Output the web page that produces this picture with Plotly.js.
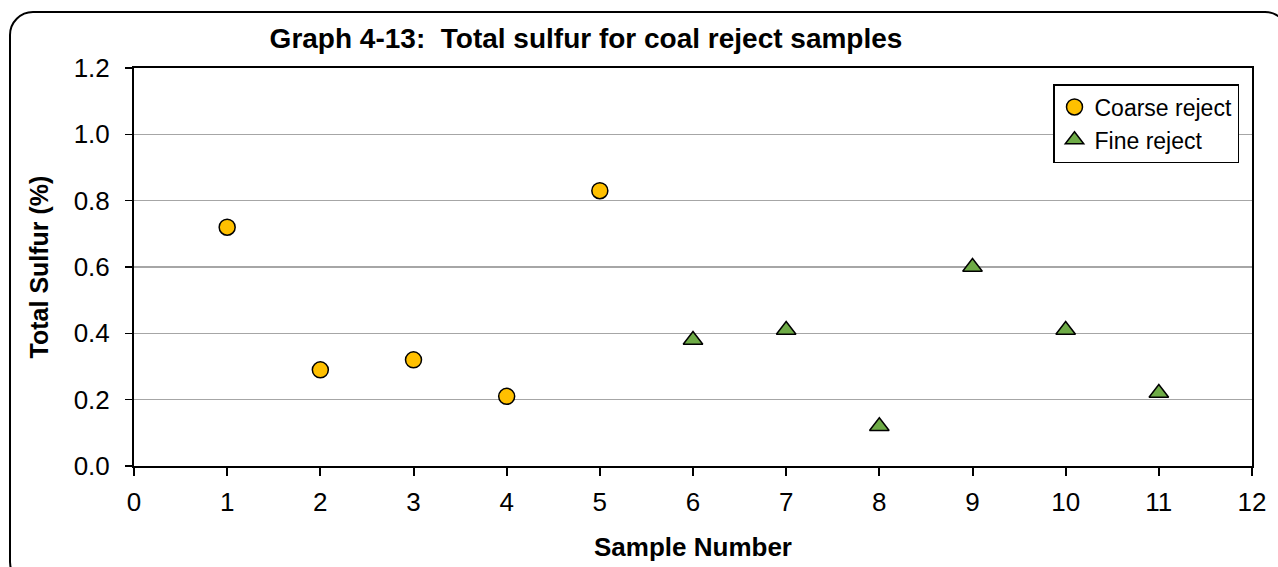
<!DOCTYPE html>
<html>
<head>
<meta charset="utf-8">
<script src="https://cdn.plot.ly/plotly-3.0.1.min.js"></script>
<style>
  html, body { margin: 0; padding: 0; width: 1278px; height: 567px; overflow: hidden; background: #ffffff; }
  #chart { position: absolute; left: 0; top: 0; width: 1278px; height: 567px; }
  #frame { position: absolute; left: 9px; top: 11px; width: 1280px; height: 575px; border: 2px solid #000; border-radius: 24px; pointer-events: none; box-sizing: border-box; }
</style>
</head>
<body>
<div id="chart"></div>
<div id="frame"></div>
<script>
// Data
const coarseSamples = [1, 2, 3, 4, 5];
const coarseSulfur  = [0.72, 0.29, 0.32, 0.21, 0.83];
const fineSamples   = [6, 7, 8, 9, 10, 11];
const fineSulfur    = [0.38, 0.41, 0.12, 0.60, 0.41, 0.22];
const seriesNames   = ['Coarse reject', 'Fine reject'];
const chartTitle    = 'Graph 4-13:  Total sulfur for coal reject samples';
const xTitle        = 'Sample Number';
const yTitle        = 'Total Sulfur (%)';

const FONT = 'Liberation Sans, Arial, sans-serif';

const traces = [
  {
    x: coarseSamples, y: coarseSulfur, name: seriesNames[0],
    type: 'scatter', mode: 'markers',
    marker: { symbol: 'circle', size: 16, color: '#FFC000', line: { color: '#000000', width: 1.5 } }
  },
  {
    x: fineSamples, y: fineSulfur, name: seriesNames[1],
    type: 'scatter', mode: 'markers',
    marker: { symbol: 'triangle-up', size: 17, color: '#6EAB46', line: { color: '#000000', width: 1.5 } }
  }
];

const layout = {
  width: 1278, height: 567,
  margin: { l: 134, r: 26, t: 68, b: 101 },
  paper_bgcolor: '#ffffff',
  plot_bgcolor: '#ffffff',
  font: { family: FONT, color: '#000000', size: 24 },
  title: {
    text: '<b>' + chartTitle + '</b>',
    font: { family: FONT, size: 28, color: '#000000' },
    x: 586 / 1278, xref: 'container', xanchor: 'center',
    y: 1 - 38 / 567, yref: 'container', yanchor: 'middle'
  },
  xaxis: {
    range: [0, 12], dtick: 1, tick0: 0,
    showgrid: false, zeroline: false,
    showline: true, linecolor: '#000000', linewidth: 2, mirror: true,
    ticks: 'outside', ticklen: 8, tickwidth: 2, tickcolor: '#000000',
    tickfont: { family: FONT, size: 26, color: '#000000' },
    ticklabelstandoff: 4,
    title: { text: '<b>' + xTitle + '</b>', font: { family: FONT, size: 26, color: '#000000' }, standoff: 22 },
    fixedrange: true
  },
  yaxis: {
    range: [0, 1.2], dtick: 0.2, tick0: 0, tickformat: '.1f',
    showgrid: true, gridcolor: '#A6A6A6', gridwidth: 1.5,
    zeroline: false,
    showline: true, linecolor: '#000000', linewidth: 2, mirror: true,
    ticks: 'outside', ticklen: 7, tickwidth: 1.5, tickcolor: '#000000',
    tickfont: { family: FONT, size: 26, color: '#000000' },
    ticklabelstandoff: 10,
    title: { text: '<b>' + yTitle + '</b>', font: { family: FONT, size: 25, color: '#000000' }, standoff: 18 },
    fixedrange: true
  },
  legend: {
    x: (1053 - 134) / 1118, y: (466 - 84) / 398,
    xanchor: 'left', yanchor: 'top',
    bgcolor: '#ffffff', bordercolor: '#000000', borderwidth: 1.5,
    font: { family: FONT, size: 23, color: '#000000' },
    itemwidth: 30, tracegroupgap: 0
  },
  showlegend: true
};

Plotly.newPlot('chart', traces, layout, { staticPlot: true, displayModeBar: false });
</script>
</body>
</html>
